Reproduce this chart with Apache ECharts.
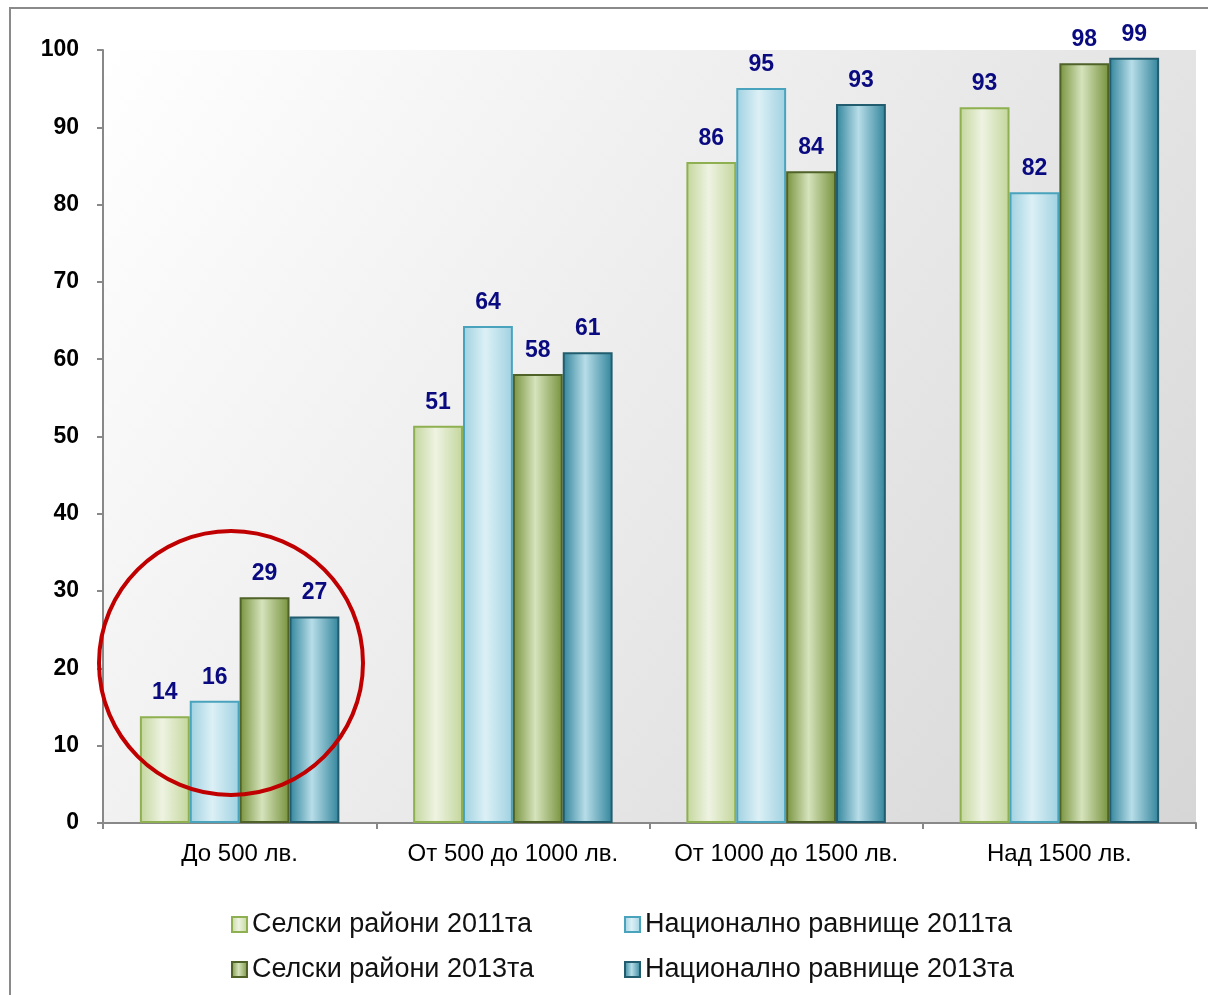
<!DOCTYPE html>
<html><head><meta charset="utf-8">
<script src="https://cdn.jsdelivr.net/npm/echarts@6/dist/echarts.min.js"></script>
<style>html,body{margin:0;padding:0;background:#fff}#c{width:1208px;height:995px}</style>
</head><body><div id="c"></div>
<script>
const categories = ['До 500 лв.', 'От 500 до 1000 лв.', 'От 1000 до 1500 лв.', 'Над 1500 лв.'];
const seriesNames = ['Селски райони 2011та', 'Национално равнище 2011та', 'Селски райони 2013та', 'Национално равнище 2013та'];
const rural2011 = [13.8, 51.4, 85.5, 92.6];
const national2011 = [15.8, 64.3, 95.1, 81.6];
const rural2013 = [29.2, 58.1, 84.3, 98.3];
const national2013 = [26.7, 60.9, 93.0, 99.0];
const yTicks = [0, 10, 20, 30, 40, 50, 60, 70, 80, 90, 100];

const styles = [
  {edge: '#c3d69b', mid: '#eef3e2', border: '#8eb050'},
  {edge: '#9fd1e1', mid: '#dcf0f6', border: '#4aa3bd'},
  {edge: '#76923c', mid: '#d6e3bc', border: '#4f6228'},
  {edge: '#31849b', mid: '#b7dde8', border: '#215d6e'}
];
function grad(s) {
  return new echarts.graphic.LinearGradient(0, 0, 1, 0, [
    {offset: 0, color: s.edge}, {offset: 0.45, color: s.mid}, {offset: 1, color: s.edge}
  ]);
}
const data = [rural2011, national2011, rural2013, national2013];
const chart = echarts.init(document.getElementById('c'));
const series = data.map((d, i) => ({
  name: seriesNames[i], type: 'bar', data: d,
  barGap: '0%', barCategoryGap: '27%',
  itemStyle: {color: grad(styles[i]), borderColor: styles[i].border, borderWidth: 2},
  label: {show: true, position: 'top', distance: 12, color: '#0a0a80', fontWeight: 'bold',
    fontSize: 23, fontFamily: 'Liberation Sans', formatter: p => Math.round(p.value)}
}));
const legendText = {fontSize: 27, color: '#111', fontFamily: 'Liberation Sans'};
const legendPos = [[231, 911], [624, 911], [231, 956], [624, 956]];
const legends = seriesNames.map((n, i) => ({
  data: [n], left: legendPos[i][0], top: legendPos[i][1], itemWidth: 15, itemHeight: 15, itemGap: 10,
  icon: 'rect', textStyle: legendText, padding: 0
}));
chart.setOption({
  animation: false,
  grid: {left: 103, right: 12, top: 50, bottom: 172, show: true, borderWidth: 0,
    backgroundColor: new echarts.graphic.LinearGradient(0, 0, 1, 1, [
      {offset: 0, color: '#ffffff'}, {offset: 1, color: '#d6d6d6'}])},
  legend: legends,
  xAxis: {type: 'category', data: categories,
    axisLine: {lineStyle: {color: '#888', width: 2}},
    axisTick: {show: true, length: 6, lineStyle: {color: '#888', width: 2}},
    axisLabel: {interval: 0, fontSize: 24, color: '#000', fontFamily: 'Liberation Sans', margin: 19}},
  yAxis: {type: 'value', min: yTicks[0], max: yTicks[yTicks.length - 1], interval: 10,
    axisLine: {show: true, lineStyle: {color: '#888', width: 2}},
    axisTick: {show: true, length: 6, lineStyle: {color: '#888', width: 2}},
    splitLine: {show: false},
    axisLabel: {fontSize: 23, fontWeight: 'bold', color: '#000', fontFamily: 'Liberation Sans', margin: 24}},
  series: series,
  graphic: [
    {type: 'rect', shape: {x: 10, y: 8, width: 1300, height: 1200}, style: {fill: 'none', stroke: '#8a8a8a', lineWidth: 2}, z: 0, silent: true},
    {type: 'ellipse', shape: {cx: 231, cy: 663, rx: 132, ry: 132}, style: {fill: 'none', stroke: '#c00000', lineWidth: 4}, z: 100, silent: true}
  ]
});
</script></body></html>
